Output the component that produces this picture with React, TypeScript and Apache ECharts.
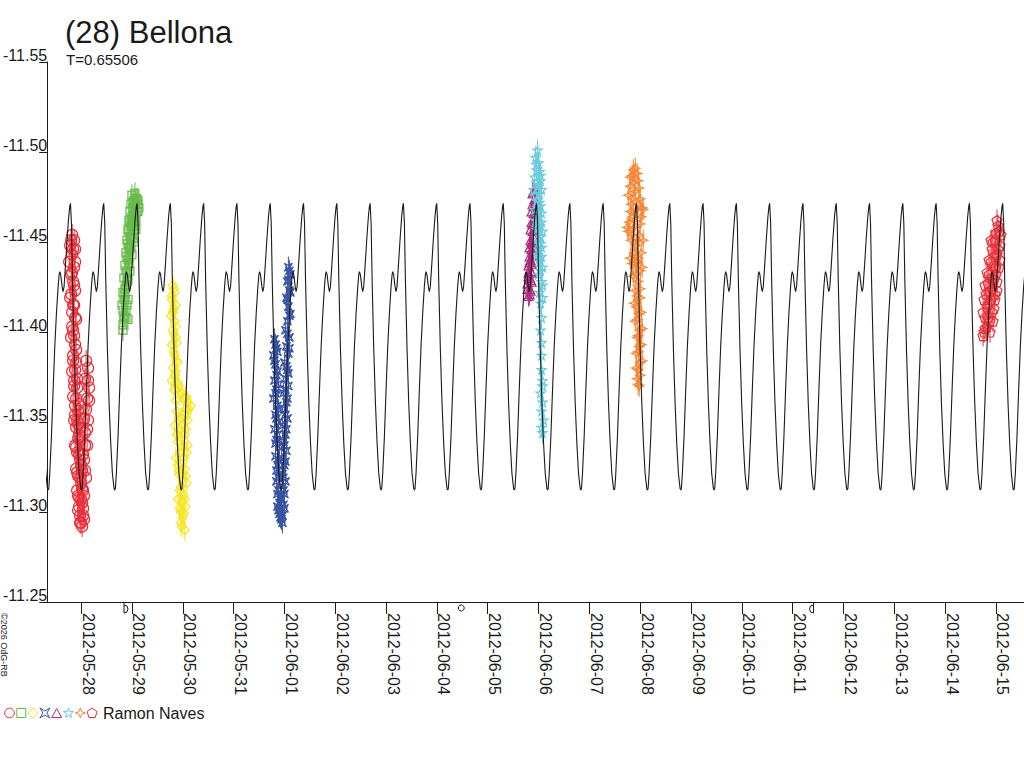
import React, { useEffect, useRef } from "react";
import * as echarts from "echarts";

// ---- axis / text data ----
const TITLE = "(28) Bellona";
const SUBTITLE = "T=0.65506";
const OBSERVER = "Ramon Naves";
const COPYRIGHT = "©2026 OdG-RB";
const PERIOD = 0.65506; // days
const EPOCH = 4.376; // day offset (from 2012-05-28 00:00) of a model maximum
const X_MIN = -0.6675;
const X_MAX = 18.551;
const Y_MIN = -11.55;
const Y_MAX = -11.25;
const Y_STEP = 0.05;
const TICK_DAYS = [0, 1, 2, 3, 4, 5, 6, 7, 8, 9, 10, 11, 12, 13, 14, 15, 16, 17, 18];
const TICK_LABELS = [
  "2012-05-28", "2012-05-29", "2012-05-30", "2012-05-31", "2012-06-01", "2012-06-02",
  "2012-06-03", "2012-06-04", "2012-06-05", "2012-06-06", "2012-06-07", "2012-06-08",
  "2012-06-09", "2012-06-10", "2012-06-11", "2012-06-12", "2012-06-13", "2012-06-14",
  "2012-06-15",
];

// moon phases (day offset) : first quarter, full, last quarter
const MOON_T = [0.844, 7.479, 14.41];
const MOON_KIND = ["first", "full", "last"];

// ---- model light curve: one period (phase, mag) ----
const MODEL_PHASE = [0, 0.03, 0.06, 0.11, 0.16, 0.21, 0.259, 0.309, 0.329, 0.349, 0.379, 0.429, 0.479,
  0.529, 0.579, 0.629, 0.659, 0.679, 0.709, 0.749, 0.778, 0.808, 0.848, 0.898, 0.948, 0.978];
const MODEL_MAG = [-11.4715, -11.4604, -11.4289, -11.39, -11.3604, -11.3381, -11.3215, -11.3131,
  -11.3122, -11.3131, -11.3215, -11.3419, -11.3678, -11.3919, -11.4104, -11.4252, -11.4317,
  -11.4335, -11.4317, -11.4252, -11.4224, -11.4252, -11.4363, -11.4511, -11.4641, -11.4696];

// ---- observations: [day offset from 2012-05-28 00:00, magnitude] ----
const SESSION_1 = [
  [-0.176, -11.454], [-0.137, -11.451], [-0.216, -11.448], [-0.118, -11.446], [-0.176, -11.443],
  [-0.235, -11.439], [-0.137, -11.436], [-0.196, -11.432], [-0.157, -11.428], [-0.118, -11.423],
  [-0.216, -11.419], [-0.137, -11.415], [-0.176, -11.411], [-0.098, -11.407], [-0.157, -11.401],
  [-0.196, -11.397], [-0.118, -11.393], [-0.157, -11.387], [-0.098, -11.383], [-0.176, -11.378],
  [-0.137, -11.373], [-0.078, -11.369], [-0.157, -11.364], [-0.118, -11.359], [-0.059, -11.356],
  [-0.137, -11.351], [-0.098, -11.347], [-0.039, -11.343], [-0.118, -11.337], [-0.078, -11.333],
  [-0.02, -11.329], [-0.098, -11.324], [-0.059, -11.32], [0.0, -11.316], [-0.078, -11.312],
  [-0.039, -11.308], [0.02, -11.305], [-0.059, -11.301], [-0.02, -11.298], [0.0, -11.294],
  [0.039, -11.302], [0.059, -11.309], [0.02, -11.323], [-0.02, -11.34], [-0.059, -11.349],
  [0.098, -11.384], [0.137, -11.38], [0.078, -11.374], [0.157, -11.369], [0.118, -11.363],
  [0.098, -11.357], [0.137, -11.351], [0.078, -11.344], [0.118, -11.337], [0.059, -11.329],
  [0.098, -11.319], [0.039, -11.312],
  [-0.196, -11.451], [-0.157, -11.446], [-0.118, -11.439], [-0.176, -11.433], [-0.137, -11.426],
  [-0.196, -11.421], [-0.157, -11.415], [-0.118, -11.408], [-0.176, -11.403], [-0.137, -11.398],
  [-0.098, -11.39], [-0.157, -11.384], [-0.118, -11.379], [-0.078, -11.374], [-0.137, -11.37],
  [-0.098, -11.363], [-0.039, -11.36], [-0.118, -11.354], [-0.078, -11.351], [-0.02, -11.347],
  [-0.059, -11.341], [-0.098, -11.336], [-0.039, -11.332], [0.0, -11.326], [-0.078, -11.322],
  [-0.02, -11.319], [0.02, -11.313], [-0.059, -11.309], [0.0, -11.307], [-0.039, -11.303],
  [0.039, -11.298], [-0.02, -11.294], [0.02, -11.292], [0.059, -11.296], [0.078, -11.337],
  [0.118, -11.346], [0.157, -11.362], [0.137, -11.373], [0.059, -11.352], [0.078, -11.323],
  [0.039, -11.332],
];
const SESSION_2 = [
  [0.824, -11.404], [0.843, -11.409], [0.804, -11.415], [0.863, -11.418], [0.824, -11.422],
  [0.882, -11.426], [0.843, -11.43], [0.902, -11.433], [0.863, -11.437], [0.922, -11.44],
  [0.882, -11.444], [0.941, -11.447], [0.902, -11.451], [0.961, -11.453], [0.922, -11.457],
  [0.98, -11.459], [0.941, -11.462], [1.0, -11.464], [0.961, -11.467], [1.02, -11.469],
  [0.98, -11.471], [1.039, -11.473], [1.0, -11.476], [1.059, -11.468], [1.02, -11.462],
  [1.078, -11.471], [1.039, -11.465], [1.098, -11.474], [1.059, -11.459], [1.118, -11.467],
  [1.078, -11.457], [1.02, -11.452], [0.98, -11.448], [0.941, -11.441], [0.902, -11.428],
  [0.863, -11.421], [0.922, -11.418], [0.882, -11.412], [0.961, -11.434], [1.0, -11.443],
  [1.039, -11.45], [1.078, -11.462], [1.118, -11.473], [1.137, -11.469], [1.059, -11.477],
  [0.843, -11.407], [0.882, -11.408], [0.824, -11.412], [0.902, -11.415], [0.863, -11.424],
  [0.922, -11.429], [0.882, -11.434], [0.941, -11.438], [0.902, -11.442], [0.961, -11.446],
  [0.922, -11.449], [0.98, -11.452], [0.941, -11.456], [1.0, -11.459], [1.039, -11.457],
  [0.961, -11.461], [1.059, -11.463], [1.098, -11.467], [1.02, -11.472], [1.078, -11.474],
  [1.118, -11.471], [0.843, -11.418], [0.824, -11.401], [0.922, -11.407],
];
const SESSION_3 = [
  [1.804, -11.426], [1.843, -11.422], [1.784, -11.418], [1.824, -11.413], [1.765, -11.409],
  [1.843, -11.406], [1.804, -11.401], [1.863, -11.397], [1.784, -11.393], [1.824, -11.389],
  [1.882, -11.384], [1.804, -11.38], [1.843, -11.376], [1.902, -11.372], [1.824, -11.368],
  [1.941, -11.365], [2.02, -11.363], [2.098, -11.361], [2.157, -11.359], [2.059, -11.357],
  [1.882, -11.356], [1.98, -11.352], [2.098, -11.351], [1.843, -11.348], [1.941, -11.346],
  [2.039, -11.343], [1.902, -11.339], [2.0, -11.336], [2.078, -11.333], [1.863, -11.33],
  [1.961, -11.327], [2.039, -11.324], [1.922, -11.321], [2.0, -11.318], [2.078, -11.316],
  [1.941, -11.312], [2.02, -11.309], [1.98, -11.306], [2.059, -11.303], [1.961, -11.3],
  [2.0, -11.297], [1.98, -11.292], [2.039, -11.29], [1.902, -11.307], [1.922, -11.323],
  [1.882, -11.343], [1.863, -11.362], [1.784, -11.373],
  [1.824, -11.424], [1.784, -11.42], [1.863, -11.415], [1.804, -11.411], [1.863, -11.403],
  [1.824, -11.399], [1.882, -11.394], [1.843, -11.387], [1.902, -11.383], [1.863, -11.378],
  [1.922, -11.37], [1.98, -11.366], [2.059, -11.364], [2.118, -11.357], [2.02, -11.354],
  [1.922, -11.351], [2.059, -11.346], [1.98, -11.341], [2.098, -11.337], [1.941, -11.333],
  [2.02, -11.33], [1.902, -11.326], [2.059, -11.32], [1.961, -11.314], [2.039, -11.307],
  [1.941, -11.302], [2.02, -11.299], [1.961, -11.294],
];
const SESSION_4 = [
  [3.804, -11.396], [3.843, -11.391], [3.784, -11.387], [3.824, -11.382], [3.863, -11.378],
  [3.804, -11.373], [3.843, -11.368], [3.784, -11.363], [3.863, -11.359], [3.824, -11.354],
  [3.882, -11.35], [3.804, -11.346], [3.843, -11.34], [3.902, -11.336], [3.824, -11.331],
  [3.863, -11.326], [3.902, -11.321], [3.843, -11.317], [3.882, -11.312], [3.922, -11.308],
  [3.863, -11.303], [3.902, -11.299], [3.941, -11.296],
  [3.824, -11.393], [3.863, -11.389], [3.804, -11.384], [3.843, -11.376], [3.882, -11.371],
  [3.824, -11.366], [3.882, -11.357], [3.843, -11.352], [3.863, -11.343], [3.824, -11.338],
  [3.882, -11.329], [3.843, -11.323], [3.882, -11.319], [3.863, -11.31], [3.902, -11.305],
  [3.882, -11.301], [3.922, -11.297], [3.961, -11.294],
  [4.078, -11.436], [4.118, -11.432], [4.059, -11.428], [4.098, -11.423], [4.039, -11.419],
  [4.078, -11.414], [4.118, -11.41], [4.059, -11.406], [4.02, -11.401], [4.098, -11.397],
  [4.039, -11.392], [4.078, -11.388], [4.0, -11.383], [4.059, -11.379], [4.02, -11.374],
  [4.078, -11.37], [3.98, -11.366], [4.039, -11.361], [4.0, -11.357], [4.059, -11.352],
  [3.961, -11.348], [4.02, -11.343], [3.98, -11.339], [4.039, -11.334], [3.941, -11.33],
  [4.0, -11.326], [3.961, -11.321], [4.02, -11.317], [3.98, -11.312], [3.941, -11.307],
  [4.0, -11.302], [3.961, -11.298],
  [4.098, -11.434], [4.078, -11.429], [4.118, -11.422], [4.059, -11.418], [4.098, -11.409],
  [4.059, -11.399], [4.098, -11.391], [4.039, -11.381], [4.078, -11.377], [4.02, -11.368],
  [4.059, -11.363], [4.02, -11.354], [4.039, -11.346], [4.0, -11.337], [4.02, -11.328],
  [3.98, -11.319], [4.0, -11.31], [3.98, -11.304],
];
const SESSION_5 = [
  [8.804, -11.42], [8.843, -11.423], [8.784, -11.427], [8.824, -11.43], [8.863, -11.433],
  [8.804, -11.437], [8.843, -11.44], [8.882, -11.443], [8.824, -11.447], [8.863, -11.45],
  [8.902, -11.453], [8.843, -11.457], [8.882, -11.46], [8.922, -11.463], [8.863, -11.467],
  [8.902, -11.47], [8.941, -11.473], [8.882, -11.477], [8.922, -11.479], [8.824, -11.424],
  [8.863, -11.428], [8.902, -11.446], [8.843, -11.434], [8.804, -11.431],
  [8.824, -11.421], [8.784, -11.424], [8.843, -11.429], [8.804, -11.433], [8.863, -11.438],
  [8.824, -11.442], [8.863, -11.446], [8.843, -11.451], [8.882, -11.456], [8.863, -11.461],
  [8.902, -11.466], [8.882, -11.471], [8.922, -11.474], [8.902, -11.478], [8.824, -11.439],
  [8.882, -11.449],
];
const SESSION_6 = [
  [8.961, -11.493], [9.02, -11.489], [8.922, -11.486], [9.0, -11.482], [9.059, -11.479],
  [8.941, -11.476], [9.02, -11.472], [8.98, -11.469], [9.059, -11.466], [8.941, -11.462],
  [9.02, -11.459], [9.078, -11.456], [8.98, -11.452], [9.039, -11.449], [9.0, -11.446],
  [9.059, -11.442], [9.02, -11.439], [9.078, -11.436], [9.0, -11.432], [9.059, -11.428],
  [9.02, -11.422], [9.078, -11.419], [9.039, -11.401], [9.059, -11.394], [9.059, -11.379],
  [9.078, -11.373], [9.039, -11.366], [9.078, -11.361], [9.059, -11.356], [9.098, -11.351],
  [9.059, -11.347], [8.902, -11.479], [8.922, -11.468], [8.961, -11.457], [9.039, -11.484],
  [8.98, -11.443],
  [8.98, -11.501], [8.941, -11.497], [9.0, -11.494], [8.961, -11.49], [9.039, -11.487],
  [8.98, -11.481], [9.02, -11.477], [8.961, -11.473], [9.039, -11.47], [9.0, -11.464],
  [9.059, -11.461], [8.98, -11.458], [9.039, -11.453], [9.0, -11.45], [9.059, -11.447],
  [9.02, -11.441], [9.039, -11.434], [9.078, -11.426], [9.039, -11.416], [9.059, -11.408],
  [9.059, -11.387], [9.078, -11.37], [9.078, -11.344],
];
const SESSION_7 = [
  [10.902, -11.491], [10.843, -11.487], [10.961, -11.484], [10.804, -11.481], [10.902, -11.478],
  [11.0, -11.474], [10.824, -11.471], [10.922, -11.468], [11.02, -11.464], [10.784, -11.461],
  [10.882, -11.458], [10.98, -11.454], [10.824, -11.451], [10.922, -11.448], [11.02, -11.444],
  [10.804, -11.441], [10.902, -11.438], [11.0, -11.434], [10.863, -11.431], [10.961, -11.428],
  [10.902, -11.423], [11.0, -11.419], [10.922, -11.414], [10.98, -11.41], [10.902, -11.406],
  [11.0, -11.401], [10.941, -11.397], [10.98, -11.392], [10.922, -11.388], [11.0, -11.383],
  [10.961, -11.379], [10.941, -11.374], [10.98, -11.37], [11.059, -11.451], [10.765, -11.456],
  [11.039, -11.469], [10.863, -11.464], [10.941, -11.439],
  [10.863, -11.49], [10.941, -11.488], [10.804, -11.486], [10.882, -11.483], [10.98, -11.48],
  [10.765, -11.476], [10.863, -11.474], [10.961, -11.471], [11.059, -11.468], [10.804, -11.467],
  [10.882, -11.462], [11.0, -11.46], [10.745, -11.458], [10.843, -11.454], [10.941, -11.451],
  [10.882, -11.444], [10.961, -11.441], [10.843, -11.438], [11.039, -11.436], [10.922, -11.432],
  [11.0, -11.424], [10.941, -11.42], [10.882, -11.416], [11.02, -11.411], [10.941, -11.407],
  [11.039, -11.402], [10.961, -11.398], [11.02, -11.393], [10.961, -11.389], [11.039, -11.384],
  [10.922, -11.38], [11.0, -11.376], [10.961, -11.371],
];
const SESSION_8 = [
  [18.02, -11.462], [18.059, -11.456], [17.98, -11.451], [18.078, -11.448], [17.922, -11.446],
  [18.02, -11.443], [17.863, -11.44], [17.961, -11.437], [18.059, -11.436], [17.824, -11.433],
  [17.922, -11.43], [18.02, -11.428], [17.784, -11.426], [17.882, -11.423], [17.98, -11.421],
  [17.765, -11.418], [17.863, -11.416], [17.961, -11.413], [17.745, -11.411], [17.843, -11.408],
  [17.941, -11.406], [17.784, -11.402], [17.882, -11.4], [17.745, -11.398], [18.0, -11.432],
  [17.902, -11.451],
  [18.039, -11.459], [18.0, -11.455], [18.098, -11.454], [17.941, -11.45], [18.039, -11.446],
  [17.98, -11.442], [18.078, -11.44], [17.902, -11.439], [18.0, -11.436], [17.863, -11.432],
  [17.961, -11.429], [17.843, -11.427], [17.922, -11.424], [18.02, -11.423], [17.804, -11.421],
  [17.902, -11.418], [17.824, -11.414], [17.922, -11.411], [17.784, -11.408], [17.882, -11.406],
  [17.824, -11.403], [17.765, -11.4], [17.98, -11.418],
];
const ERR = 0.006; // error bar half-length (mag)

// ---- styles ----
const FONT = '"Liberation Sans", Arial, Helvetica, sans-serif';
const INK = "#1a1a1a";
const COLORS = ["#ec2d37", "#66bb4a", "#f7e51b", "#3953a4", "#b02b7e", "#6ccbdc", "#f58634", "#ec2d37"];

// unit shapes (0..10 box)
const SHAPE_BOWTIE = [[0, 0], [5, 3], [10, 0], [7, 5], [10, 10], [5, 7], [0, 10], [3, 5]];
const SHAPE_STAR5 = [[5, 0], [6.2, 3.6], [10, 3.6], [6.9, 5.9], [8.1, 9.5], [5, 7.3], [1.9, 9.5], [3.1, 5.9], [0, 3.6], [3.8, 3.6]];
const SHAPE_STAR4 = [[5, 0], [6.3, 3.7], [10, 5], [6.3, 6.3], [5, 10], [3.7, 6.3], [0, 5], [3.7, 3.7]];
const SHAPE_PENTA = [[5, 0], [10, 3.6], [8.1, 9.5], [1.9, 9.5], [0, 3.6]];
const SHAPE_DIAMOND = [[5, 0], [10, 5], [5, 10], [0, 5]];
const SHAPE_TRIANGLE = [[5, 0.5], [10, 9.5], [0, 9.5]];
const SHAPE_RECT = [[0.5, 0.5], [9.5, 0.5], [9.5, 9.5], [0.5, 9.5]];

const toPath = (pts: number[][]) =>
  "path://" + pts.map((p, i) => (i === 0 ? "M" : "L") + p[0] + "," + p[1]).join("") + "Z";

const SESSIONS = [
  { data: SESSION_1, color: COLORS[0], symbol: "circle", shape: null as number[][] | null, size: 11 },
  { data: SESSION_2, color: COLORS[1], symbol: "rect", shape: SHAPE_RECT, size: 8 },
  { data: SESSION_3, color: COLORS[2], symbol: toPath(SHAPE_DIAMOND), shape: SHAPE_DIAMOND, size: 9 },
  { data: SESSION_4, color: COLORS[3], symbol: toPath(SHAPE_BOWTIE), shape: SHAPE_BOWTIE, size: 8 },
  { data: SESSION_5, color: COLORS[4], symbol: toPath(SHAPE_TRIANGLE), shape: SHAPE_TRIANGLE, size: 9 },
  { data: SESSION_6, color: COLORS[5], symbol: toPath(SHAPE_STAR5), shape: SHAPE_STAR5, size: 9 },
  { data: SESSION_7, color: COLORS[6], symbol: toPath(SHAPE_STAR4), shape: SHAPE_STAR4, size: 9 },
  { data: SESSION_8, color: COLORS[7], symbol: toPath(SHAPE_PENTA), shape: SHAPE_PENTA, size: 10 },
];

function buildCurve(): number[][] {
  const out: number[][] = [];
  const kStart = Math.floor((X_MIN - EPOCH) / PERIOD) - 1;
  const kEnd = Math.ceil((X_MAX - EPOCH) / PERIOD) + 1;
  for (let k = kStart; k <= kEnd; k++) {
    for (let i = 0; i < MODEL_PHASE.length; i++) {
      const t = EPOCH + (k + MODEL_PHASE[i]) * PERIOD;
      if (t >= X_MIN - 0.7 && t <= X_MAX + 0.7) out.push([t, MODEL_MAG[i]]);
    }
  }
  return out;
}

function legendGraphics() {
  const els: any[] = [];
  const cy = 713;
  const step = 11.8;
  SESSIONS.forEach((s, i) => {
    const cx = 9.5 + i * step;
    if (!s.shape) {
      els.push({ type: "circle", shape: { cx, cy, r: 4.8 }, style: { fill: "none", stroke: s.color, lineWidth: 1 } });
    } else {
      const sz = 10;
      els.push({
        type: "polygon",
        shape: { points: s.shape.map((p) => [cx - sz / 2 + (p[0] * sz) / 10, cy - sz / 2 + (p[1] * sz) / 10]) },
        style: { fill: "none", stroke: s.color, lineWidth: 1 },
      });
    }
  });
  els.push({
    type: "text", x: 103, y: 713,
    style: { text: OBSERVER, fontSize: 16, fontFamily: FONT, fill: INK, align: "left", verticalAlign: "middle" },
  });
  return els;
}

export default function App() {
  const ref = useRef<HTMLDivElement>(null);
  useEffect(() => {
    if (!ref.current) return;
    const chart = echarts.init(ref.current, null, { renderer: "svg" });

    const series: any[] = [];
    SESSIONS.forEach((s) => {
      series.push({
        type: "custom",
        coordinateSystem: "cartesian2d",
        silent: true,
        z: 2,
        data: s.data,
        renderItem: (_p: any, api: any) => {
          const x = api.value(0);
          const y = api.value(1);
          const a = api.coord([x, y - ERR]);
          const b = api.coord([x, y + ERR]);
          return {
            type: "line",
            shape: { x1: a[0], y1: a[1], x2: b[0], y2: b[1] },
            style: { stroke: s.color, lineWidth: 1 },
          };
        },
      });
      series.push({
        type: "scatter",
        data: s.data,
        symbol: s.symbol,
        symbolSize: s.size,
        silent: true,
        z: 3,
        itemStyle: { color: "rgba(0,0,0,0)", borderColor: s.color, borderWidth: 1.2, opacity: 1 },
      });
    });
    series.push({
      type: "line",
      data: buildCurve(),
      showSymbol: false,
      silent: true,
      z: 5,
      clip: true,
      lineStyle: { color: INK, width: 1.1 },
    });
    series.push({
      type: "custom",
      coordinateSystem: "cartesian2d",
      silent: true,
      clip: false,
      z: 6,
      data: MOON_T.map((t, i) => [t, i]),
      renderItem: (_p: any, api: any) => {
        const p = api.coord([api.value(0), Y_MAX]);
        const kind = MOON_KIND[api.value(1)];
        const st = { fill: "none", stroke: INK, lineWidth: 1 };
        if (kind === "full") {
          return { type: "circle", shape: { cx: p[0], cy: p[1] + 6, r: 3 }, style: st };
        }
        const left = kind === "first";
        return {
          type: "group",
          children: [
            { type: "line", shape: { x1: p[0], y1: p[1] + 1, x2: p[0], y2: p[1] + 11 }, style: st },
            {
              type: "arc",
              shape: {
                cx: p[0], cy: p[1] + 7, r: 4,
                startAngle: left ? -Math.PI / 2 : Math.PI / 2,
                endAngle: left ? Math.PI / 2 : (3 * Math.PI) / 2,
                clockwise: true,
              },
              style: st,
            },
          ],
        };
      },
    });

    chart.setOption({
      animation: false,
      backgroundColor: "#ffffff",
      grid: { left: 45, right: 0, top: 62, bottom: 166, containLabel: false },
      xAxis: {
        type: "value",
        min: X_MIN,
        max: X_MAX,
        axisLine: { show: true, onZero: false, lineStyle: { color: INK, width: 1 } },
        axisTick: { show: true, length: 12, customValues: TICK_DAYS, lineStyle: { color: INK, width: 1 } },
        axisLabel: {
          customValues: TICK_DAYS,
          rotate: -90,
          margin: 11,
          align: "left",
          verticalAlign: "bottom",
          lineHeight: 14,
          fontSize: 16,
          fontFamily: FONT,
          color: INK,
          formatter: (v: number) => TICK_LABELS[Math.round(v)] ?? "",
        },
        splitLine: { show: false },
      },
      yAxis: {
        type: "value",
        min: Y_MIN,
        max: Y_MAX,
        interval: Y_STEP,
        inverse: true,
        axisLine: { show: true, onZero: false, lineStyle: { color: INK, width: 1 } },
        axisTick: { show: true, length: 8, lineStyle: { color: INK, width: 1 } },
        axisLabel: {
          margin: 0,
          verticalAlign: "bottom",
          lineHeight: 14,
          fontSize: 16,
          fontFamily: FONT,
          color: INK,
          formatter: (v: number) => v.toFixed(2),
        },
        splitLine: { show: false },
      },
      graphic: [
        {
          type: "text", x: 65, y: 32,
          style: { text: TITLE, fontSize: 31, lineHeight: 30, fontFamily: FONT, fill: INK, align: "left", verticalAlign: "middle" },
        },
        {
          type: "text", x: 66, y: 59,
          style: { text: SUBTITLE, fontSize: 15, lineHeight: 14, fontFamily: FONT, fill: INK, align: "left", verticalAlign: "middle" },
        },
        {
          type: "text", x: -1, y: 613, rotation: -Math.PI / 2,
          style: { text: COPYRIGHT, fontSize: 9, fontFamily: FONT, fill: INK, align: "left", verticalAlign: "bottom" },
        },
        ...legendGraphics(),
      ],
      series,
    });
    return () => chart.dispose();
  }, []);
  return (
    <div
      ref={ref}
      style={{ position: "fixed", left: 0, top: 0, width: 1024, height: 768, background: "#fff" }}
    />
  );
}
